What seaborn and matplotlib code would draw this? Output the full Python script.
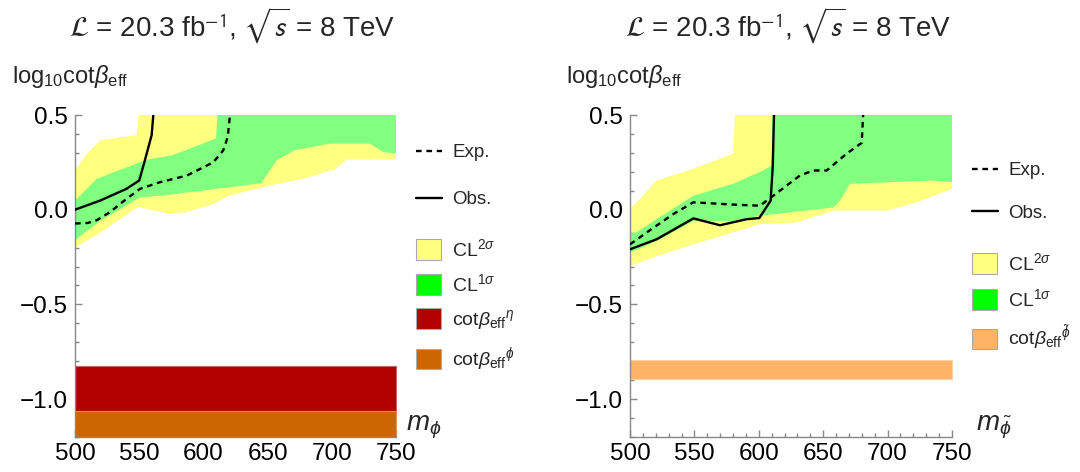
import numpy as np
import matplotlib
matplotlib.use("Agg")
import matplotlib.pyplot as plt
import seaborn as sns
from matplotlib.lines import Line2D
from matplotlib.patches import Patch
from matplotlib.ticker import MultipleLocator

# ---------------- data: left panel (m_phi) ----------------
L_y2_up_m = [500, 510, 520, 548, 549.5, 750]
L_y2_up_v = [0.207, 0.30, 0.367, 0.394, 0.5, 0.5]
L_y2_lo_m = [500, 519.7, 549.3, 556, 572, 586, 607.7, 619.6, 651.9, 677.8, 698.6, 701, 711.6, 750]
L_y2_lo_v = [-0.20, -0.121, 0.016, 0.004, -0.02, -0.014, 0.03, 0.074, 0.128, 0.163, 0.207, 0.207, 0.264, 0.264]
L_g1_up_m = [500, 517, 555.8, 575.7, 609.8, 611, 750]
L_g1_up_v = [0.048, 0.163, 0.264, 0.287, 0.376, 0.5, 0.5]
L_g1_lo_m = [500, 519.7, 550.6, 567, 609.8, 645, 657, 671, 698.6, 729.7, 740, 750]
L_g1_lo_v = [-0.161, -0.059, 0.065, 0.074, 0.11, 0.14, 0.26, 0.314, 0.349, 0.349, 0.305, 0.296]
L_obs_m = [500, 519.5, 540, 550, 554, 559.7, 561]
L_obs_v = [0.0, 0.048, 0.11, 0.154, 0.25, 0.394, 0.5]
L_exp_m = [500, 510, 517, 527, 540, 550.6, 566, 587, 607.7, 615.5, 619, 620.7]
L_exp_v = [-0.073, -0.07, -0.055, -0.014, 0.057, 0.11, 0.145, 0.18, 0.25, 0.314, 0.385, 0.5]
L_eta_band = [-1.062, -0.823]
L_phi_band = [-1.20, -1.062]

# ---------------- data: right panel (m_phi~) ----------------
R_y2_up_m = [500, 507.8, 520.7, 549.2, 580.2, 581.5, 750]
R_y2_up_v = [0.004, 0.057, 0.154, 0.216, 0.296, 0.5, 0.5]
R_y2_lo_m = [500, 520.7, 549.2, 580.2, 600.9, 629.4, 657.9, 699.3, 722.6, 750]
R_y2_lo_v = [-0.298, -0.245, -0.183, -0.12, -0.076, -0.067, -0.005, -0.005, 0.039, 0.11]
R_g1_up_m = [500, 505, 520.7, 549.2, 580.2, 603.5, 610, 610.5, 750]
R_g1_up_v = [-0.12, -0.12, -0.05, 0.074, 0.137, 0.207, 0.234, 0.5, 0.5]
R_g1_lo_m = [500, 520.7, 549.2, 580.2, 600.9, 624, 657.9, 663, 670.8, 735.5, 750]
R_g1_lo_v = [-0.227, -0.165, -0.059, -0.059, -0.032, -0.014, 0.012, 0.048, 0.137, 0.154, 0.145]
R_obs_m = [500, 520.7, 549.2, 569.9, 590.6, 600.4, 609.2, 610.8, 611.8]
R_obs_v = [-0.209, -0.156, -0.046, -0.082, -0.05, -0.044, 0.048, 0.225, 0.5]
R_exp_m = [500, 513, 533.6, 549.2, 580.2, 600.9, 611.3, 632, 642.3, 652.7, 668.2, 679.9, 681]
R_exp_v = [-0.183, -0.12, -0.023, 0.039, 0.027, 0.021, 0.074, 0.181, 0.207, 0.207, 0.296, 0.353, 0.5]
R_phit_band = [-0.893, -0.791]

m_range = [500, 750]

YELLOW = "#FFFF80"
GREEN_FILL = "#80FF80"
GREEN_LEG = "#00FF00"
RED = "#B30000"
ORANGE = "#CC6600"
LORANGE = "#FFB366"
GRAY = "#888888"

sns.set_theme(style="ticks")
plt.rcParams["font.family"] = ["Liberation Sans", "DejaVu Sans"]
plt.rcParams["mathtext.fontset"] = "custom"
plt.rcParams["mathtext.rm"] = "Liberation Sans"
plt.rcParams["mathtext.it"] = "Liberation Sans:italic"
plt.rcParams["mathtext.bf"] = "Liberation Sans:bold"

fig = plt.figure(figsize=(10.8, 4.72), dpi=100)
axL = fig.add_axes([75 / 1080, 35 / 472, 321 / 1080, 322 / 472])
axR = fig.add_axes([630 / 1080, 35 / 472, 322 / 1080, 322 / 472])


def band(ax, xu, yu, xl, yl, color):
    x = np.concatenate([xu, xl[::-1]])
    y = np.concatenate([yu, yl[::-1]])
    ax.fill(x, y, color=color, lw=0, zorder=1)


def hband(ax, lims, color, edge):
    ax.fill_between(m_range, [lims[0]] * 2, [lims[1]] * 2, color=color,
                    edgecolor=edge, lw=0.8, zorder=1)


def lines(ax, om, ov, em, ev):
    sns.lineplot(x=om, y=ov, sort=False, estimator=None, color="black",
                 lw=1.7, ax=ax, zorder=3)
    sns.lineplot(x=em, y=ev, sort=False, estimator=None, color="black",
                 lw=1.7, ax=ax, zorder=3)
    ax.lines[-1].set_dashes([2.4, 2.0])


def style(ax):
    ax.set_xlim(500, 750)
    ax.set_ylim(-1.2, 0.5)
    ax.xaxis.set_major_locator(MultipleLocator(50))
    ax.xaxis.set_minor_locator(MultipleLocator(10))
    ax.yaxis.set_major_locator(MultipleLocator(0.5))
    ax.yaxis.set_minor_locator(MultipleLocator(0.1))
    ax.tick_params(which="both", direction="in", color=GRAY, width=1,
                   labelsize=17.5, labelcolor="black")
    ax.tick_params(which="major", length=5)
    ax.tick_params(which="minor", length=3)
    ax.tick_params(axis="y", pad=5)
    ax.tick_params(axis="x", pad=4)
    for s in ["top", "right"]:
        ax.spines[s].set_visible(False)
    for s in ["left", "bottom"]:
        ax.spines[s].set_color(GRAY)
        ax.spines[s].set_linewidth(1)
    ax.set_xlabel("")
    ax.set_ylabel("")
    ax.text(0.49, 1.242, r"$\mathcal{L}$ = 20.3 fb$^{-1}$, $\sqrt{s}$ = 8 TeV",
            transform=ax.transAxes, ha="center", va="baseline", fontsize=20,
            math_fontfamily="stixsans")


# left panel
band(axL, np.array(L_y2_up_m), np.array(L_y2_up_v), np.array(L_y2_lo_m), np.array(L_y2_lo_v), YELLOW)
band(axL, np.array(L_g1_up_m), np.array(L_g1_up_v), np.array(L_g1_lo_m), np.array(L_g1_lo_v), GREEN_FILL)
hband(axL, L_eta_band, RED, "#D06060")
hband(axL, L_phi_band, ORANGE, "#E09050")
lines(axL, L_obs_m, L_obs_v, L_exp_m, L_exp_v)
style(axL)
axL.text(-0.196, 1.10, r"log$_{10}$cot$\beta_{\rm eff}$", transform=axL.transAxes,
         ha="left", va="baseline", fontsize=17)
axL.text(1.03, 0.02, r"$m_{\phi}$", transform=axL.transAxes, ha="left",
         va="baseline", fontsize=20)

# right panel
band(axR, np.array(R_y2_up_m), np.array(R_y2_up_v), np.array(R_y2_lo_m), np.array(R_y2_lo_v), YELLOW)
band(axR, np.array(R_g1_up_m), np.array(R_g1_up_v), np.array(R_g1_lo_m), np.array(R_g1_lo_v), GREEN_FILL)
hband(axR, R_phit_band, LORANGE, "#FFD0A0")
lines(axR, R_obs_m, R_obs_v, R_exp_m, R_exp_v)
style(axR)
axR.text(-0.199, 1.10, r"log$_{10}$cot$\beta_{\rm eff}$", transform=axR.transAxes,
         ha="left", va="baseline", fontsize=17)
axR.text(1.075, 0.02, r"$m_{\tilde{\phi}}$", transform=axR.transAxes, ha="left",
         va="baseline", fontsize=20)

# legends
def add_legends(ax, x, ytop_lines, ytop_patches, patches, line_space, patch_space):
    lh = [Line2D([], [], color="black", lw=1.7, dashes=[2.4, 2.0]),
          Line2D([], [], color="black", lw=1.7)]
    leg1 = ax.legend(lh, ["Exp.", "Obs."], loc="upper left",
                     bbox_to_anchor=(x / 1080, 1 - ytop_lines / 472),
                     bbox_transform=fig.transFigure, frameon=False, fontsize=13.5,
                     handlelength=1.4, handletextpad=0.55, borderpad=0,
                     borderaxespad=0, labelspacing=line_space)
    ax.add_artist(leg1)
    ph = [Patch(facecolor=c, edgecolor="#AAAAAA", lw=0.8) for c, _ in patches]
    ax.legend(ph, [t for _, t in patches], loc="upper left",
              bbox_to_anchor=(x / 1080, 1 - ytop_patches / 472),
              bbox_transform=fig.transFigure, frameon=False, fontsize=14,
              handlelength=1.3, handleheight=1.25, handletextpad=0.55,
              borderpad=0, borderaxespad=0, labelspacing=patch_space)


add_legends(axL, 416, 144, 238,
            [(YELLOW, r"CL$^{2\sigma}$"), (GREEN_LEG, r"CL$^{1\sigma}$"),
             (RED, r"cot$\beta_{\rm eff}{}^{\eta}$"), (ORANGE, r"cot$\beta_{\rm eff}{}^{\phi}$")],
            1.6, 0.68)
add_legends(axR, 972, 162, 252,
            [(YELLOW, r"CL$^{2\sigma}$"), (GREEN_LEG, r"CL$^{1\sigma}$"),
             (LORANGE, r"cot$\beta_{\rm eff}{}^{\tilde{\phi}}$")],
            1.35, 0.72)

fig.savefig("out.png", dpi=100)
